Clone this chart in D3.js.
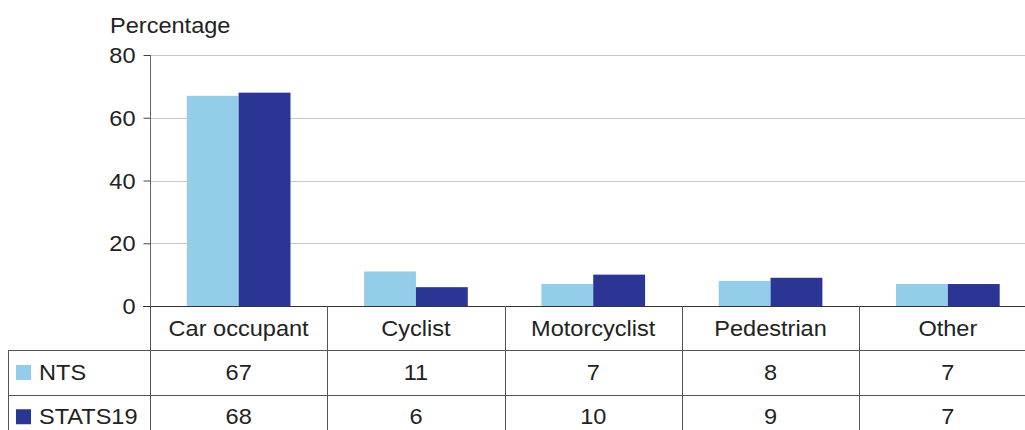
<!DOCTYPE html>
<html>
<head>
<meta charset="utf-8">
<script src="https://cdn.jsdelivr.net/npm/d3@7"></script>
<style>
  html, body { margin: 0; padding: 0; background: #fff; }
  svg { display: block; font-family: "Liberation Sans", Arial, Helvetica, sans-serif; }
</style>
</head>
<body>
<svg id="chart" width="1025" height="430"></svg>
<script>
// Casualty share by road user type, per cent
const categories = ["Car occupant", "Cyclist", "Motorcyclist", "Pedestrian", "Other"];
const seriesNames = ["NTS", "STATS19"];
const ntsValues = [67, 11, 7, 8, 7];
const stats19Values = [68, 6, 10, 9, 7];
const yTicks = [0, 20, 40, 60, 80];
const seriesColors = ["#93cdea", "#2b3594"];

const series = [ntsValues, stats19Values];

const svg = d3.select("#chart");
const W = 1025, H = 430;
const FS = 22;          // label font size
const STRETCH = 1.07;   // slightly wide lettering

const plotLeft = 150, plotRight = 1036.5;
const plotTop = 55, plotBottom = 306;
const tableLeft = 8.5;
const rowH = 44.3;

const x = d3.scaleBand().domain(categories).range([plotLeft, plotRight]).paddingInner(0).paddingOuter(0);
const xs = d3.scaleBand().domain(seriesNames).range([0, x.bandwidth()]).paddingInner(0).paddingOuter(0.71);
const y = d3.scaleLinear().domain([0, 80]).range([plotBottom, plotTop]);

// gridlines
svg.append("g")
  .selectAll("line")
  .data(yTicks.filter(d => d > 0))
  .join("line")
  .attr("x1", plotLeft).attr("x2", W)
  .attr("y1", d => Math.round(y(d)) + 0.5).attr("y2", d => Math.round(y(d)) + 0.5)
  .attr("stroke", "#c8c8c8").attr("stroke-width", 1);

// bars
const groups = svg.append("g")
  .selectAll("g")
  .data(categories)
  .join("g")
  .attr("transform", d => `translate(${x(d)},0)`);

groups.selectAll("rect")
  .data((c, i) => seriesNames.map((s, j) => ({ s, v: series[j][i], j })))
  .join("rect")
  .attr("x", d => xs(d.s))
  .attr("width", xs.bandwidth())
  .attr("y", d => y(d.v))
  .attr("height", d => y(0) - y(d.v))
  .attr("fill", d => seriesColors[d.j]);

// y axis
const yAxis = d3.axisLeft(y).tickValues(yTicks).tickSize(7).tickPadding(8).tickFormat(d3.format("d"));
const yg = svg.append("g").attr("transform", `translate(${plotLeft + 0.5},0)`).call(yAxis);
yg.select(".domain").attr("stroke", "#666").attr("d", `M0,${plotTop}V${plotBottom}`);
yg.selectAll(".tick line").attr("stroke", "#444");
yg.selectAll(".tick text").attr("font-size", FS).attr("fill", "#222").attr("dy", "0.35em");

svg.append("text")
  .attr("x", 110).attr("y", 33)
  .attr("font-size", FS).attr("fill", "#222")
  .text("Percentage");

// data table
const tg = svg.append("g");
const lineColor = "#555";

// baseline / table top
tg.append("line").attr("x1", plotLeft - 7).attr("x2", W)
  .attr("y1", plotBottom + 0.5).attr("y2", plotBottom + 0.5)
  .attr("stroke", "#333").attr("stroke-width", 1.2);

const rowLines = [plotBottom + rowH, plotBottom + 2 * rowH];
tg.selectAll("line.row")
  .data(rowLines)
  .join("line")
  .attr("class", "row")
  .attr("x1", tableLeft).attr("x2", W)
  .attr("y1", d => Math.round(d) + 0.5).attr("y2", d => Math.round(d) + 0.5)
  .attr("stroke", lineColor);

// vertical separators
const vx = [plotLeft, ...categories.slice(1).map(c => x(c))];
tg.selectAll("line.col")
  .data(vx)
  .join("line")
  .attr("class", "col")
  .attr("x1", d => Math.round(d) + 0.5).attr("x2", d => Math.round(d) + 0.5)
  .attr("y1", plotBottom).attr("y2", H)
  .attr("stroke", lineColor);

tg.append("line")
  .attr("x1", tableLeft).attr("x2", tableLeft)
  .attr("y1", plotBottom + rowH).attr("y2", H)
  .attr("stroke", lineColor);

// category header
tg.selectAll("text.cat")
  .data(categories)
  .join("text")
  .attr("class", "cat")
  .attr("x", d => x(d) + x.bandwidth() / 2)
  .attr("y", plotBottom + rowH / 2)
  .attr("dy", "0.35em")
  .attr("text-anchor", "middle")
  .attr("font-size", FS).attr("fill", "#222")
  .text(d => d);

// series rows
seriesNames.forEach((name, j) => {
  const cy = plotBottom + rowH * (j + 1) + rowH / 2;
  tg.append("rect")
    .attr("x", 16).attr("y", cy - 7.5)
    .attr("width", 15).attr("height", 15)
    .attr("fill", seriesColors[j]);
  tg.append("text")
    .attr("x", 39).attr("y", cy).attr("dy", "0.35em")
    .attr("font-size", FS).attr("fill", "#222")
    .text(name);
  tg.selectAll(null)
    .data(categories)
    .join("text")
    .attr("x", c => x(c) + x.bandwidth() / 2)
    .attr("y", cy).attr("dy", "0.35em")
    .attr("text-anchor", "middle")
    .attr("font-size", FS).attr("fill", "#222")
    .text((c, i) => series[j][i]);
});

// widen all lettering a little
svg.selectAll("text").each(function () {
  const len = this.getComputedTextLength();
  d3.select(this).attr("textLength", len * STRETCH).attr("lengthAdjust", "spacingAndGlyphs");
});
</script>
</body>
</html>
